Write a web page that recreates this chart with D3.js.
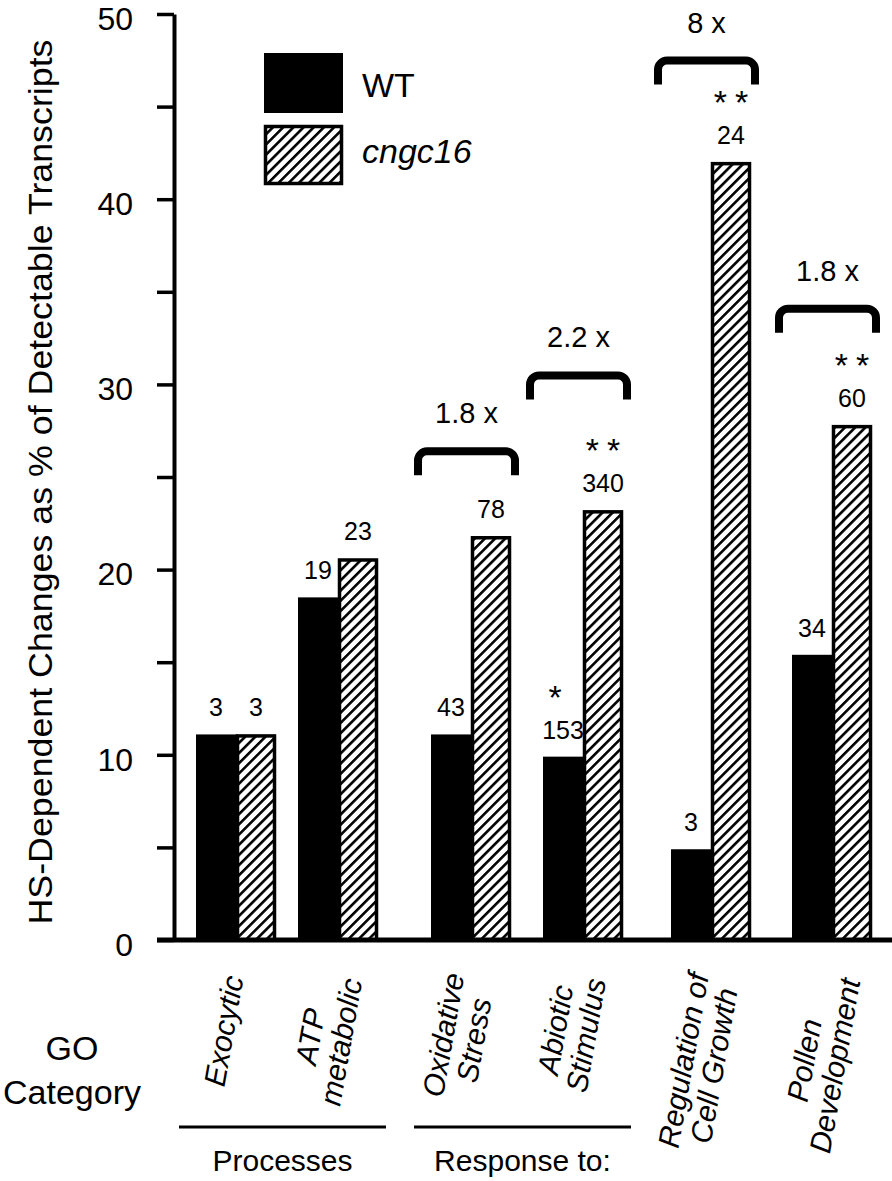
<!DOCTYPE html>
<html>
<head>
<meta charset="utf-8">
<script src="https://cdn.jsdelivr.net/npm/d3@7"></script>
<style>
  html, body { margin: 0; padding: 0; background: #fff; }
  svg { display: block; font-family: "Liberation Sans", Arial, Helvetica, sans-serif; }
</style>
</head>
<body>
<svg id="chart" width="892" height="1181"></svg>
<script>
// ---------------- DATA ----------------
const categories = ["Exocytic", "ATP metabolic", "Oxidative Stress", "Abiotic Stimulus", "Regulation of Cell Growth", "Pollen Development"];
const categoryLines = [["Exocytic"], ["ATP", "metabolic"], ["Oxidative", "Stress"], ["Abiotic", "Stimulus"], ["Regulation of", "Cell Growth"], ["Pollen", "Development"]];
const seriesNames = ["WT", "cngc16"];
const wtValues = [11.1, 18.5, 11.1, 9.9, 4.9, 15.4];
const cngcValues = [11.1, 20.6, 21.8, 23.2, 42.0, 27.8];
const wtCounts = ["3", "19", "43", "153", "3", "34"];
const cngcCounts = ["3", "23", "78", "340", "24", "60"];
const wtStars = ["", "", "", "*", "", ""];
const cngcStars = ["", "", "", "**", "**", "**"];
const foldLabels = ["", "", "1.8 x", "2.2 x", "8 x", "1.8 x"];
const foldLevels = [null, null, 26.6, 30.7, 47.7, 34.3];
const yTickValues = [0, 5, 10, 15, 20, 25, 30, 35, 40, 45, 50];
const yTickLabels = ["0", "", "10", "", "20", "", "30", "", "40", "", "50"];
const sections = [
  { label: "Processes", members: ["Exocytic", "ATP metabolic"] },
  { label: "Response to:", members: ["Oxidative Stress", "Abiotic Stimulus"] }
];
const yTitle = "HS-Dependent Changes as % of Detectable Transcripts";
const goLines = ["GO", "Category"];

// ---------------- LAYOUT ----------------
const groupLeft = [196, 298, 431, 543, 671, 792];
const groupWidth = 80;
const axisX = 174, baseY = 940, topY = 14;

const svg = d3.select("#chart");

// hatch pattern
const defs = svg.append("defs");
const pat = defs.append("pattern")
  .attr("id", "hatch").attr("patternUnits", "userSpaceOnUse")
  .attr("width", 7.2).attr("height", 7.2)
  .attr("patternTransform", "rotate(45)");
pat.append("rect").attr("width", 7.2).attr("height", 7.2).attr("fill", "#fff");
pat.append("line").attr("x1", 0).attr("y1", 0).attr("x2", 0).attr("y2", 7.2)
  .attr("stroke", "#000").attr("stroke-width", 5.2);

// scales
const y = d3.scaleLinear().domain([0, 50]).range([baseY, topY]);
const xg = d3.scaleOrdinal().domain(categories).range(groupLeft);
const xs = d3.scaleBand().domain(seriesNames).range([0, groupWidth]);
const bw = xs.bandwidth();

// y axis
const axis = d3.axisLeft(y)
  .tickValues(yTickValues)
  .tickFormat((d, i) => yTickLabels[i])
  .tickSize(17).tickSizeOuter(0).tickPadding(24);
const ag = svg.append("g").attr("transform", `translate(${axisX},0)`).call(axis);
ag.select(".domain").attr("stroke", "#000").attr("stroke-width", 4);
ag.selectAll(".tick line").attr("stroke", "#000").attr("stroke-width", 3.5);
ag.selectAll(".tick text").attr("font-size", 32).attr("fill", "#000")
  .attr("font-family", "'Liberation Sans', Arial, sans-serif")
  .attr("dy", "0.48em");

// y title
svg.append("text")
  .attr("transform", `translate(52,${(topY + baseY) / 2 + 5}) rotate(-90)`)
  .attr("text-anchor", "middle")
  .attr("font-size", 33)
  .attr("textLength", 885).attr("lengthAdjust", "spacingAndGlyphs")
  .text(yTitle);

// bars
const groups = svg.append("g").selectAll("g.grp").data(categories).join("g")
  .attr("class", "grp")
  .attr("transform", d => `translate(${xg(d)},0)`);

groups.append("rect")
  .attr("x", xs("WT"))
  .attr("y", (d, i) => y(wtValues[i]))
  .attr("width", bw + 1.5)
  .attr("height", (d, i) => baseY - y(wtValues[i]))
  .attr("fill", "#000");

groups.append("rect")
  .attr("x", xs("cngc16") + 1.5)
  .attr("y", (d, i) => y(cngcValues[i]) + 1.5)
  .attr("width", bw - 3)
  .attr("height", (d, i) => baseY - y(cngcValues[i]) - 1.5)
  .attr("fill", "url(#hatch)")
  .attr("stroke", "#000").attr("stroke-width", 3.5);

// count labels
groups.append("text")
  .attr("x", xs("WT") + bw / 2)
  .attr("y", (d, i) => y(wtValues[i]) - 18)
  .attr("text-anchor", "middle").attr("font-size", 25)
  .text((d, i) => wtCounts[i]);
groups.append("text")
  .attr("x", xs("cngc16") + bw / 2)
  .attr("y", (d, i) => y(cngcValues[i]) - 18)
  .attr("text-anchor", "middle").attr("font-size", 25)
  .text((d, i) => cngcCounts[i]);

// stars
groups.append("text")
  .attr("x", xs("WT") + bw / 2 - 4)
  .attr("y", (d, i) => y(wtValues[i]) - 18 - 30)
  .attr("text-anchor", "middle").attr("font-size", 34)
  .attr("letter-spacing", 8)
  .text((d, i) => wtStars[i]);
groups.append("text")
  .attr("x", xs("cngc16") + bw / 2 + 4)
  .attr("y", (d, i) => y(cngcValues[i]) - 18 - 30)
  .attr("text-anchor", "middle").attr("font-size", 34)
  .attr("letter-spacing", 8)
  .text((d, i) => cngcStars[i]);

// fold brackets
const bl = -13, br = groupWidth + 4, bh = 28, r = 9, sw = 8;
groups.filter((d, i) => foldLevels[i] !== null).each(function (d) {
  const i = categories.indexOf(d);
  const top = y(foldLevels[i]) + sw / 2;
  const g = d3.select(this);
  const p = d3.path();
  p.moveTo(bl, top + bh - sw / 2);
  p.lineTo(bl, top + r);
  p.arcTo(bl, top, bl + r, top, r);
  p.lineTo(br - r, top);
  p.arcTo(br, top, br, top + r, r);
  p.lineTo(br, top + bh - sw / 2);
  g.append("path").attr("d", p.toString())
    .attr("fill", "none").attr("stroke", "#000").attr("stroke-width", sw);
  g.append("text")
    .attr("x", (bl + br) / 2)
    .attr("y", y(foldLevels[i]) - 24)
    .attr("text-anchor", "middle").attr("font-size", 29)
    .text(foldLabels[i]);
});

// baseline (x axis)
svg.append("line")
  .attr("x1", 157).attr("x2", 892)
  .attr("y1", baseY).attr("y2", baseY)
  .attr("stroke", "#000").attr("stroke-width", 5);

// category labels
const labelTop = 976, lineH = 31, angle = -80;
groups.each(function (d, i) {
  const g = d3.select(this);
  const lines = categoryLines[i];
  const t = g.append("text")
    .attr("font-size", 30).attr("font-style", "italic")
    .attr("text-anchor", "middle");
  lines.forEach((ln, k) => {
    t.append("tspan").attr("x", 0)
      .attr("dy", k === 0 ? (-(lines.length - 1) / 2 * lineH + 10) : lineH)
      .text(ln);
  });
  let maxL = 0;
  t.selectAll("tspan").each(function () { maxL = Math.max(maxL, this.getComputedTextLength()); });
  const rad = -angle * Math.PI / 180;
  const cy = labelTop + (maxL / 2) * Math.sin(rad);
  t.attr("transform", `translate(${groupWidth / 2 - 12},${cy}) rotate(${angle})`);
});

// GO Category
const go = svg.append("text").attr("text-anchor", "middle").attr("font-size", 34);
goLines.forEach((ln, k) => {
  go.append("tspan").attr("x", 72).attr("y", 1060 + k * 44).text(ln);
});

// sections
sections.forEach(s => {
  const x1 = xg(s.members[0]) - 17;
  const x2 = xg(s.members[s.members.length - 1]) + groupWidth + 8;
  svg.append("line").attr("x1", x1).attr("x2", x2)
    .attr("y1", 1127).attr("y2", 1127)
    .attr("stroke", "#000").attr("stroke-width", 3);
  svg.append("text").attr("x", (x1 + x2) / 2).attr("y", 1171)
    .attr("text-anchor", "middle").attr("font-size", 30)
    .text(s.label);
});

// legend
const legend = svg.append("g").attr("transform", "translate(264,53)");
legend.append("rect").attr("x", 0).attr("y", 0).attr("width", 79).attr("height", 60).attr("fill", "#000");
legend.append("rect").attr("x", 1.5).attr("y", 73.5).attr("width", 76).attr("height", 57)
  .attr("fill", "url(#hatch)").attr("stroke", "#000").attr("stroke-width", 3.5);
legend.append("text").attr("x", 98).attr("y", 44).attr("font-size", 34).text(seriesNames[0]);
legend.append("text").attr("x", 98).attr("y", 110).attr("font-size", 34).attr("font-style", "italic").text(seriesNames[1]);
</script>
</body>
</html>
